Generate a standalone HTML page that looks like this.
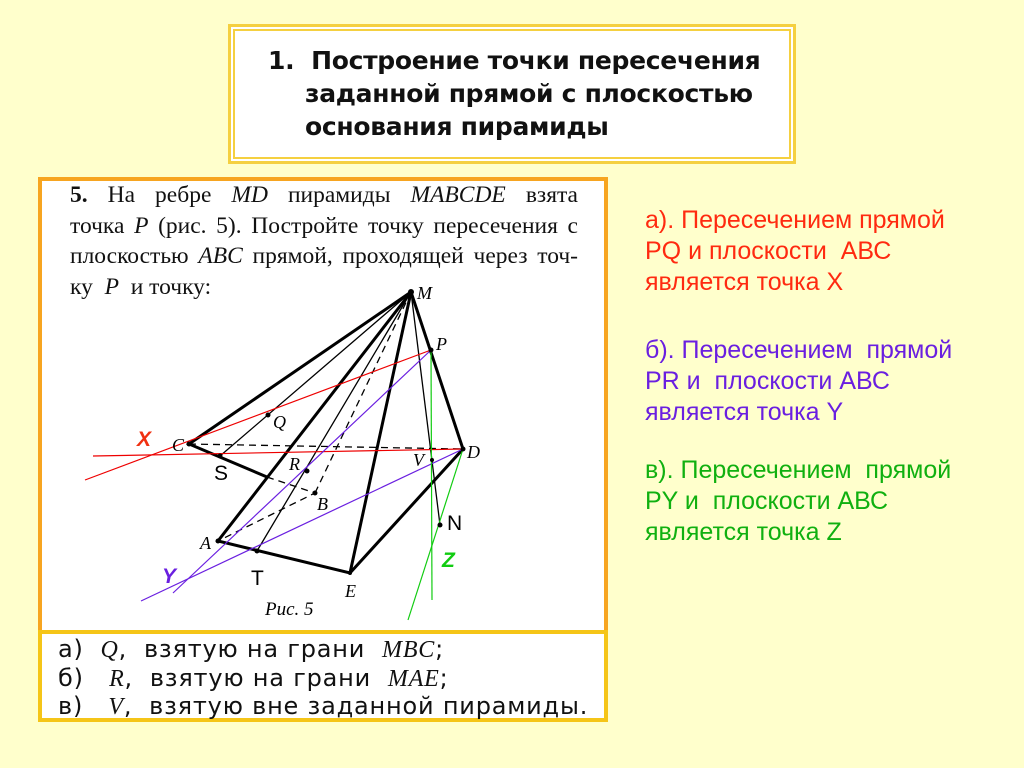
<!DOCTYPE html>
<html><head><meta charset="utf-8"><style>
body{margin:0;width:1024px;height:768px;background:#ffffcc;position:relative;overflow:hidden;font-family:"Liberation Sans",sans-serif}
.t{position:absolute;font-size:25px;line-height:31px;white-space:nowrap}
.pj{text-align:justify;text-align-last:justify;display:block;height:30.5px;white-space:nowrap}
</style></head><body>
<div style="position:absolute;left:228px;top:24px;width:562px;height:134px;border:3px solid #f5d040;background:#fff;box-shadow:inset 0 0 0 2px #fff,inset 0 0 0 4px #f5d040"></div>
<div style="position:absolute;left:268px;top:44px;font:bold 25px/33px 'DejaVu Sans',sans-serif;color:#111;letter-spacing:-0.3px">1.&nbsp;&nbsp;Построение точки пересечения<br><span style="padding-left:37px">заданной прямой с плоскостью</span><br><span style="padding-left:37px">основания пирамиды</span></div>
<div style="position:absolute;left:38px;top:177px;width:562px;height:450px;border:4px solid #f7a520;background:#fff"></div>
<div style="position:absolute;left:38px;top:630px;width:562px;height:84px;border:4px solid #f5c518;background:#fff"></div>
<div style="position:absolute;left:70px;top:180px;font:23.5px/30.5px 'Liberation Serif',serif;color:#111;width:508px">
<span class="pj"><b>5.</b> На ребре <i>MD</i> пирамиды <i>MABCDE</i> взята</span>
<span class="pj">точка <i>P</i> (рис. 5). Постройте точку пересечения с</span>
<span class="pj">плоскостью <i>ABC</i> прямой, проходящей через точ-</span>
<span style="display:block">ку&nbsp; <i>P</i>&nbsp; и точку:</span></div>
<div style="position:absolute;left:58px;top:636px;font:24px/27.5px 'DejaVu Sans',sans-serif;color:#111;white-space:nowrap;letter-spacing:0.8px">а)&nbsp; <i style="font-family:'Liberation Serif',serif">Q</i>,&nbsp; взятую на грани&nbsp; <i style="font-family:'Liberation Serif',serif">MBC</i>;<br>б)&nbsp; &nbsp;<i style="font-family:'Liberation Serif',serif">R</i>,&nbsp; взятую на грани&nbsp; <i style="font-family:'Liberation Serif',serif">MAE</i>;<br>в)&nbsp; &nbsp;<i style="font-family:'Liberation Serif',serif">V</i>,&nbsp; взятую вне заданной пирамиды.</div>
<svg width="1024" height="768" style="position:absolute;left:0;top:0" font-family="Liberation Serif" font-style="italic" font-size="18">
<g stroke="#000" fill="none">
<g stroke-width="3"><path d="M411 292L189 444L267 477M411 292L218 541L350 573L463 449L411 292M411 292L350 573"/></g>
<g stroke-width="1.3"><path d="M411 292L220 456M411 292L257 551M411 292L440 525"/></g>
<g stroke-width="1.3" stroke-dasharray="7,5"><path d="M189 444L463 449M267 477L315 493L218 541M315 493L411 292"/></g>
</g>
<g stroke="#e00" stroke-width="1.2"><line x1="85" y1="480" x2="431" y2="350"/><line x1="93" y1="456" x2="463" y2="449"/></g>
<g stroke="#6a1fe0" stroke-width="1.2"><line x1="173" y1="593" x2="431" y2="350"/><line x1="141" y1="601" x2="463" y2="449"/></g>
<g stroke="#1c1" stroke-width="1.2"><line x1="431" y1="350" x2="432" y2="600"/><line x1="463" y1="449" x2="408" y2="620"/></g>
<g fill="#000"><circle cx="411" cy="292" r="3"/><circle cx="431" cy="350" r="2.5"/><circle cx="189" cy="444" r="2.5"/><circle cx="463" cy="449" r="2.5"/><circle cx="268" cy="415" r="2.5"/><circle cx="220" cy="456" r="2.5"/><circle cx="307" cy="471" r="2.5"/><circle cx="315" cy="493" r="2.5"/><circle cx="218" cy="541" r="2.5"/><circle cx="257" cy="551" r="2.5"/><circle cx="350" cy="573" r="2"/><circle cx="432" cy="460" r="2"/><circle cx="440" cy="525" r="2.5"/></g>
<g fill="#000"><text x="417" y="299">M</text><text x="436" y="350">P</text><text x="172" y="451">C</text><text x="467" y="458">D</text><text x="273" y="428">Q</text><text x="289" y="470">R</text><text x="317" y="510">B</text><text x="200" y="549">A</text><text x="345" y="597">E</text><text x="413" y="466">V</text><text x="265" y="615" font-size="19">Рис. 5</text></g>
<g font-family="Liberation Sans" font-style="normal" font-size="21"><text x="214" y="480">S</text><text x="251" y="585">T</text><text x="447" y="530">N</text><text x="137" y="446" fill="#f03010" font-weight="bold" font-style="italic">X</text><text x="162" y="583" fill="#6a1fe0" font-weight="bold" font-style="italic">Y</text><text x="442" y="567" fill="#1c1" font-weight="bold" font-style="italic">Z</text></g>
</svg>
<div class="t" style="left:645px;top:205px;color:#ff2a10">а). Пересечением прямой<br>PQ и плоскости&nbsp; АВС<br>является точка Х</div>
<div class="t" style="left:645px;top:335px;color:#6a1fe0">б). Пересечением&nbsp; прямой<br>PR и&nbsp; плоскости АВС<br>является точка Y</div>
<div class="t" style="left:645px;top:455px;color:#10b010">в). Пересечением&nbsp; прямой<br>PY и&nbsp; плоскости АВС<br>является точка Z</div>
</body></html>
